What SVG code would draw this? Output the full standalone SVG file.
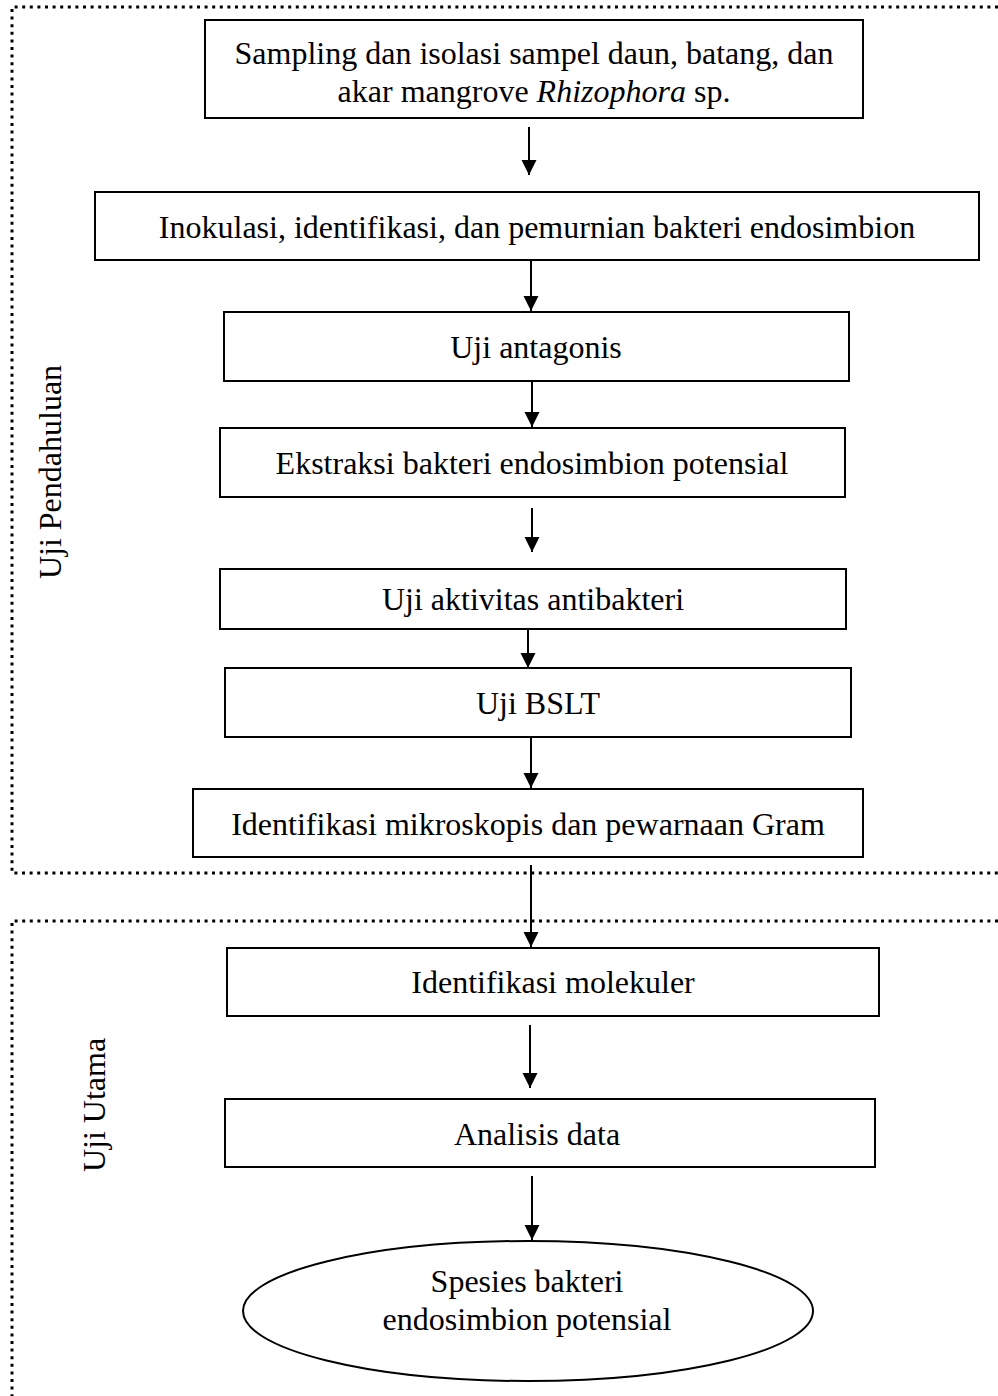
<svg xmlns="http://www.w3.org/2000/svg" width="998" height="1396" viewBox="0 0 998 1396">
  <style>
    .box { fill: #fff; stroke: #000; stroke-width: 2; }
    .lbl { font-family: "Liberation Serif", "Times New Roman", serif; font-size: 32px; fill: #000; text-anchor: middle; }
    .side { font-family: "Liberation Serif", "Times New Roman", serif; font-size: 32px; fill: #000; text-anchor: middle; }
    .frame { fill: none; stroke: #000; stroke-width: 3; stroke-dasharray: 3 4.6; }
    .arrow { fill: none; stroke: #000; stroke-width: 2; marker-end: url(#head); }
  </style>
  <defs>
    <marker id="head" markerUnits="userSpaceOnUse" markerWidth="16" markerHeight="16" refX="15" refY="7.5" orient="auto">
      <path d="M0,0 L15,7.5 L0,15 Z" fill="#000"/>
    </marker>
  </defs>
  <rect width="998" height="1396" fill="#fff"/>

  <!-- dotted section frames with their rotated titles -->
  <g id="sections">
    <path class="frame" d="M998,7 H12 V873 H998"/>
    <path class="frame" d="M998,921 H12 V1396"/>
    <text class="side" transform="translate(61,472) rotate(-90)">Uji Pendahuluan</text>
    <text class="side" transform="translate(105,1105) rotate(-90)">Uji Utama</text>
  </g>

  <!-- connectors -->
  <g id="connectors">
    <line class="arrow" x1="529" y1="127" x2="529" y2="175"/>
    <line class="arrow" x1="531" y1="261" x2="531" y2="311"/>
    <line class="arrow" x1="532" y1="382" x2="532" y2="427"/>
    <line class="arrow" x1="532" y1="508" x2="532" y2="552"/>
    <line class="arrow" x1="528" y1="630" x2="528" y2="668"/>
    <line class="arrow" x1="531" y1="738" x2="531" y2="788"/>
    <line class="arrow" x1="531" y1="865" x2="531" y2="947"/>
    <line class="arrow" x1="530" y1="1025" x2="530" y2="1088"/>
    <line class="arrow" x1="532" y1="1176" x2="532" y2="1240"/>
  </g>

  <g id="n1">
    <rect class="box" x="205" y="20" width="658" height="98"/>
    <text class="lbl" x="534" y="64">Sampling dan isolasi sampel daun, batang, dan</text>
    <text class="lbl" x="534" y="102">akar mangrove <tspan font-style="italic">Rhizophora</tspan> sp.</text>
  </g>
  <g id="n2">
    <rect class="box" x="95" y="192" width="884" height="68"/>
    <text class="lbl" x="537" y="238">Inokulasi, identifikasi, dan pemurnian bakteri endosimbion</text>
  </g>
  <g id="n3">
    <rect class="box" x="224" y="312" width="625" height="69"/>
    <text class="lbl" x="536" y="358">Uji antagonis</text>
  </g>
  <g id="n4">
    <rect class="box" x="220" y="428" width="625" height="69"/>
    <text class="lbl" x="532" y="474">Ekstraksi bakteri endosimbion potensial</text>
  </g>
  <g id="n5">
    <rect class="box" x="220" y="569" width="626" height="60"/>
    <text class="lbl" x="533" y="610">Uji aktivitas antibakteri</text>
  </g>
  <g id="n6">
    <rect class="box" x="225" y="668" width="626" height="69"/>
    <text class="lbl" x="538" y="714">Uji BSLT</text>
  </g>
  <g id="n7">
    <rect class="box" x="193" y="789" width="670" height="68"/>
    <text class="lbl" x="528" y="835">Identifikasi mikroskopis dan pewarnaan Gram</text>
  </g>
  <g id="n8">
    <rect class="box" x="227" y="948" width="652" height="68"/>
    <text class="lbl" x="553" y="993">Identifikasi molekuler</text>
  </g>
  <g id="n9">
    <rect class="box" x="225" y="1099" width="650" height="68"/>
    <text class="lbl" x="537" y="1145">Analisis data</text>
  </g>
  <g id="n10">
    <ellipse class="box" cx="528" cy="1311" rx="285" ry="70"/>
    <text class="lbl" x="527" y="1292">Spesies bakteri</text>
    <text class="lbl" x="527" y="1330">endosimbion potensial</text>
  </g>
</svg>
